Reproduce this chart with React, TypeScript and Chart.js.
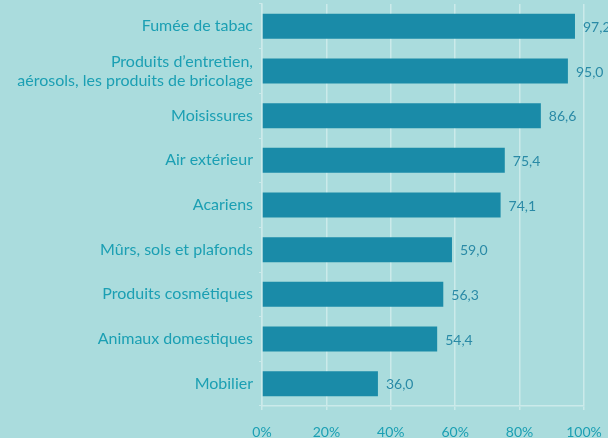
import React, { useEffect, useRef } from "react";
import { Chart, registerables } from "chart.js";

Chart.register(...registerables);

const categories: (string | string[])[] = [
  "Fumée de tabac",
  ["Produits d’entretien,", "aérosols, les produits de bricolage"],
  "Moisissures",
  "Air extérieur",
  "Acariens",
  "Mûrs, sols et plafonds",
  "Produits cosmétiques",
  "Animaux domestiques",
  "Mobilier",
];
const values = [97.2, 95.0, 86.6, 75.4, 74.1, 59.0, 56.3, 54.4, 36.0];
const xTicks = [0, 20, 40, 60, 80, 100];

const BG = "#aadcdd";
const BAR = "#1a8ba8";
const LABEL = "#1b9fb3";
const VALUE = "#2a8aa6";
const GRID = "#cbeaea";
const FONT = "Lato";

const valueLabels = {
  id: "valueLabels",
  afterDatasetsDraw(chart: any) {
    const ctx = chart.ctx;
    const meta = chart.getDatasetMeta(0);
    ctx.save();
    ctx.font = `14px ${FONT}`;
    ctx.fillStyle = VALUE;
    ctx.textAlign = "left";
    ctx.textBaseline = "middle";
    meta.data.forEach((bar: any, i: number) => {
      ctx.fillText(values[i].toFixed(1).replace(".", ","), bar.x + 8, bar.y + 1);
    });
    ctx.restore();
  },
};

export default function App() {
  const ref = useRef<HTMLCanvasElement>(null);
  useEffect(() => {
    document.body.style.margin = "0";
    const chart = new Chart(ref.current!, {
      type: "bar",
      data: {
        labels: categories,
        datasets: [
          {
            data: values,
            backgroundColor: BAR,
            borderWidth: 0,
            barPercentage: 0.56,
            categoryPercentage: 1,
          },
        ],
      },
      options: {
        indexAxis: "y",
        animation: false,
        responsive: false,
        maintainAspectRatio: false,
        layout: { padding: { top: 4, right: 24, left: 0, bottom: 0 } },
        plugins: { legend: { display: false }, tooltip: { enabled: false } },
        scales: {
          x: {
            min: 0,
            max: 100,
            afterBuildTicks: (s: any) => {
              s.ticks = xTicks.map((v) => ({ value: v }));
            },
            afterFit: (s: any) => {
              s.height = 32;
              s.paddingLeft = 0;
              s.paddingRight = 0;
            },
            grid: {
              color: GRID,
              lineWidth: 1.5,
              tickLength: 4,
              drawTicks: true,
            },
            border: { color: GRID, width: 1.5 },
            ticks: {
              color: LABEL,
              padding: 14,
              maxRotation: 0,
              font: { family: FONT, size: 14 },
              callback: (v: any) => v + "%",
            },
          },
          y: {
            afterFit: (s: any) => {
              s.width = 262;
              s.paddingTop = 0;
              s.paddingBottom = 0;
            },
            grid: {
              drawOnChartArea: false,
              color: GRID,
              tickLength: 3,
              offset: true,
            },
            border: { color: GRID, width: 1.5 },
            ticks: {
              color: LABEL,
              padding: 6,
              font: { family: FONT, size: 16 },
            },
          },
        },
      },
      plugins: [valueLabels],
    });
    return () => chart.destroy();
  }, []);
  return (
    <div style={{ width: 608, height: 438, background: BG }}>
      <canvas ref={ref} width={608} height={438} style={{ display: "block" }} />
    </div>
  );
}
